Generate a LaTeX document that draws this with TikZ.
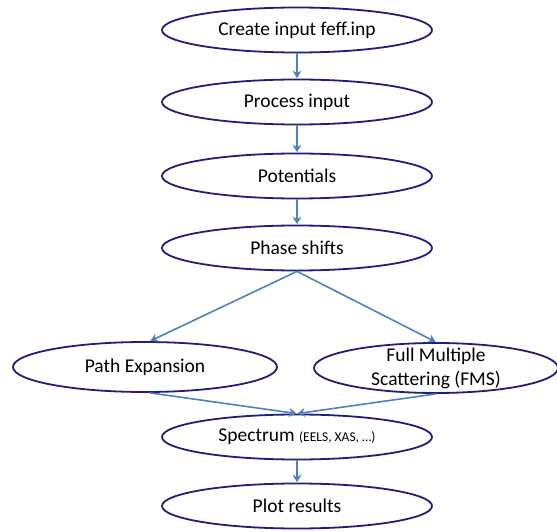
\documentclass[tikz,border=0pt]{standalone}
\usepackage{fontspec}
\setmainfont{Carlito}
\usetikzlibrary{shapes.geometric,arrows.meta}
\definecolor{rim}{RGB}{32,30,125}
\definecolor{flow}{RGB}{79,129,189}
\begin{document}
\begin{tikzpicture}[x=1pt,y=1pt,>={Stealth[length=7.5pt,width=9pt,inset=2.5pt]}, line join=round, line cap=round,
    stage/.style={ellipse, draw=rim, line width=1.8pt, fill=white, minimum width=270pt, minimum height=45pt, inner sep=0pt, font=\fontsize{19.5}{23}\selectfont},
    wide/.style={stage, minimum height=50pt},
    flowarrow/.style={->, draw=flow, line width=1.6pt, shorten >=0.5pt}]
    \useasboundingbox (0,0) rectangle (557,531);
    \def\cx{297} % middle column
    \node[stage] (create) at (\cx,501) {Create input feff.inp};
    \node[stage] (process) at (\cx,429) {Process input};
    \node[stage] (potentials) at (\cx,355) {Potentials};
    \node[stage] (phase) at (\cx,283) {Phase shifts};
    \node[wide, minimum width=264pt] (paths) at (145,164) {Path Expansion};
    \node[wide, minimum width=244pt, label={[align=center, font=\fontsize{19.5}{24}\selectfont]center:Full Multiple\\Scattering (FMS)}] (fms) at (436,163) {};
    \node[stage] (spectrum) at (\cx,94) {Spectrum {\fontsize{13.5}{16}\selectfont(EELS, XAS, …)}};
    \node[stage] (plot) at (\cx,25) {Plot results};
    \draw[flowarrow] (create) -- (process);
    \draw[flowarrow] (process) -- (potentials);
    \draw[flowarrow] (potentials) -- (phase);
    \draw[flowarrow] (phase.south) -- ([xshift=5pt]paths.north);
    \draw[flowarrow] (phase.south) -- (fms.north);
    \draw[flowarrow] ([xshift=5pt]paths.south) -- (spectrum.north);
    \draw[flowarrow] (fms.south) -- (spectrum.north);
    \draw[flowarrow] (spectrum) -- (plot);
\end{tikzpicture}
\end{document}
